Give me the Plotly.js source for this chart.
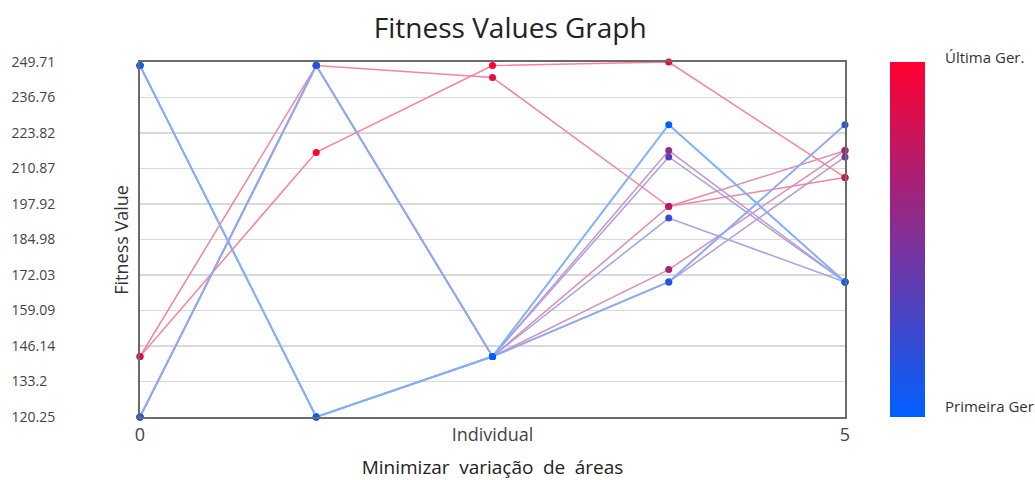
<!DOCTYPE html>
<html>
<head>
<meta charset="utf-8">
<script src="https://cdn.plot.ly/plotly-3.0.1.min.js"></script>
<style>html,body{margin:0;padding:0;background:#fff;}#chart{width:1035px;height:480px;}</style>
</head>
<body>
<div id="chart"></div>
<script>
// Individual positions along the x axis
const xPositions = [0, 1.25, 2.5, 3.75, 5];

// Fitness values of each generation (first -> last)
const gen1 = [248.4, 120.25, 142.3, 226.85, 169.5];
const gen2 = [120.25, 248.4, 142.3, 169.5, 226.85];
const gen3 = [248.4, 120.25, 142.3, 192.8, 169.5];
const gen4 = [120.25, 248.4, 142.3, 215.1, 169.5];
const gen5 = [248.4, 120.25, 142.3, 169.5, 215.1];
const gen6 = [120.25, 248.4, 142.3, 217.4, 169.5];
const gen7 = [248.4, 120.25, 142.3, 174.0, 217.4];
const gen8 = [120.25, 248.4, 142.3, 197.0, 217.4];
const gen9 = [142.3, 248.4, 244.1, 197.0, 207.6];
const gen10 = [142.3, 216.75, 248.4, 249.71, 207.6];
const generations = [gen1, gen2, gen3, gen4, gen5, gen6, gen7, gen8, gen9, gen10];

// Axis ticks
const yTickVals = [120.25, 133.2, 146.14, 159.09, 172.03, 184.98, 197.92, 210.87, 223.82, 236.76, 249.71];
const yTickText = ['120.25', '133.2\u2007', '146.14', '159.09', '172.03', '184.98', '197.92', '210.87', '223.82', '236.76', '249.71'];
const xTickVals = [0, 2.5, 5];
const xTickText = ['0', 'Individual', '5'];
const colorbarLabels = ['Primeira Ger.', 'Última Ger.'];

const firstColor = [0, 96, 255];
const lastColor = [255, 0, 48];
function mix(t, light) {
  const c = firstColor.map((v, i) => {
    const base = v + (lastColor[i] - v) * t;
    return Math.round(base + (255 - base) * light);
  });
  return 'rgb(' + c[0] + ',' + c[1] + ',' + c[2] + ')';
}

const font = '"Open Sans", "Noto Sans", sans-serif';
const traces = [];
const n = generations.length;
for (let g = n - 1; g >= 0; g--) {
  const t = g / (n - 1);
  traces.push({
    type: 'scatter', mode: 'lines+markers',
    x: xPositions, y: generations[g],
    line: {color: mix(t, 0.5), width: g < 2 ? 2 : 1.5},
    marker: {color: mix(t, 0), size: 7},
    cliponaxis: false, showlegend: false, hoverinfo: 'y'
  });
}
traces.push({
  type: 'scatter', mode: 'markers', x: [null], y: [null], showlegend: false,
  marker: {
    color: [0], cmin: 0, cmax: 1,
    colorscale: [[0, mix(0, 0)], [0.5, mix(0.5, 0)], [1, mix(1, 0)]],
    showscale: true,
    colorbar: {
      x: 1.0638, xanchor: 'left', xpad: 0, y: 0.5, yanchor: 'middle', ypad: 0,
      len: 1, lenmode: 'fraction', thickness: 35, thicknessmode: 'pixels',
      outlinewidth: 0, showticklabels: false, ticks: ''
    }
  }
});

const layout = {
  width: 1035, height: 480,
  margin: {l: 140, r: 190, t: 62, b: 63},
  paper_bgcolor: '#fff', plot_bgcolor: '#fff',
  title: {text: 'Fitness Values Graph', x: 0.493, xref: 'container', xanchor: 'center',
          y: 0.942, yref: 'container', yanchor: 'middle',
          font: {family: font, size: 28, color: '#222'}},
  xaxis: {
    range: [0, 5], tickvals: xTickVals, ticktext: xTickText,
    showgrid: false, zeroline: false, showline: true, mirror: true,
    linecolor: '#6b6b6b', linewidth: 2, ticks: '',
    tickfont: {family: font, size: 18, color: '#444'},
    title: {text: 'Minimizar\u2002variação\u2002de\u2002áreas', standoff: 18,
            font: {family: font, size: 19, color: '#222'}}
  },
  yaxis: {
    range: [120.25, 249.71], tickvals: yTickVals, ticktext: yTickText,
    showgrid: true, gridcolor: '#d9d9d9', gridwidth: 1.5, zeroline: false,
    showline: true, mirror: true, linecolor: '#6b6b6b', linewidth: 2, ticks: '',
    ticklabelstandoff: 80,
    tickfont: {family: font, size: 14, color: '#444'}
  },
  annotations: [{
    text: 'Fitness Value', xref: 'paper', yref: 'paper', x: -0.028, y: 0.5,
    xanchor: 'center', yanchor: 'middle', textangle: -90, showarrow: false,
    font: {family: font, size: 18, color: '#333'}
  }, {
    text: colorbarLabels[1], xref: 'paper', yref: 'paper', x: 1.139, y: 1.014,
    xanchor: 'left', yanchor: 'middle', showarrow: false,
    font: {family: font, size: 15, color: '#333'}
  }, {
    text: colorbarLabels[0], xref: 'paper', yref: 'paper', x: 1.139, y: 0.031,
    xanchor: 'left', yanchor: 'middle', showarrow: false,
    font: {family: font, size: 15, color: '#333'}
  }]
};

Plotly.newPlot('chart', traces, layout, {displayModeBar: false, staticPlot: true});
</script>
</body>
</html>
